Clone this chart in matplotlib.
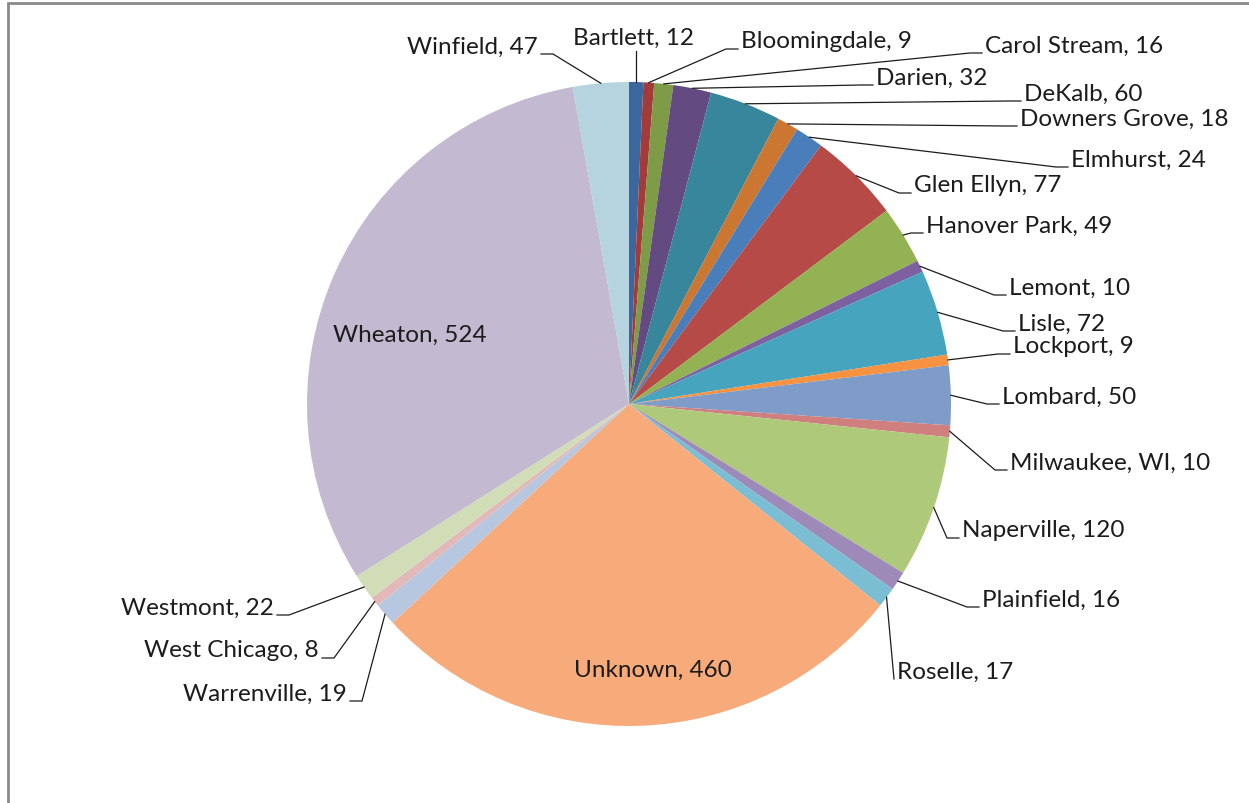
import numpy as np
import matplotlib.pyplot as plt
from matplotlib.patches import Rectangle

# visits by town
towns = ["Bartlett", "Bloomingdale", "Carol Stream", "Darien", "DeKalb",
         "Downers Grove", "Elmhurst", "Glen Ellyn", "Hanover Park", "Lemont",
         "Lisle", "Lockport", "Lombard", "Milwaukee, WI", "Naperville",
         "Plainfield", "Roselle", "Unknown", "Warrenville", "West Chicago",
         "Westmont", "Wheaton", "Winfield"]
counts = [12, 9, 16, 32, 60, 18, 24, 77, 49, 10, 72, 9, 50, 10, 120,
          16, 17, 460, 19, 8, 22, 524, 47]

colors = ["#3b679e", "#a33b3a", "#7e9b47", "#634b82", "#37869b", "#cb7731",
          "#4a7ebb", "#b54a47", "#93b254", "#7d60a0", "#46a4be", "#f69240",
          "#7f9cc9", "#cf7f7e", "#afc97a", "#9d8ab8", "#7bbed4", "#f8ab7a",
          "#b8c7e0", "#e2b9b8", "#d0ddb7", "#c3b9d1", "#b6d4df"]

# label placement in pixels: (x, y, alignment)
label_pos = {
    "Bartlett": (634, 38, "center"),
    "Bloomingdale": (741, 42, "left"),
    "Carol Stream": (985, 46, "left"),
    "Darien": (876, 78, "left"),
    "DeKalb": (1024, 94, "left"),
    "Downers Grove": (1020, 119, "left"),
    "Elmhurst": (1071, 160, "left"),
    "Glen Ellyn": (914, 186, "left"),
    "Hanover Park": (926, 226, "left"),
    "Lemont": (1009, 288, "left"),
    "Lisle": (1018, 324, "left"),
    "Lockport": (1013, 347, "left"),
    "Lombard": (1002, 397, "left"),
    "Milwaukee, WI": (1010, 463, "left"),
    "Naperville": (962, 531, "left"),
    "Plainfield": (982, 600, "left"),
    "Roselle": (897, 672, "left"),
    "Unknown": (653, 670, "inside"),
    "Warrenville": (347, 694, "right"),
    "West Chicago": (319, 651, "right"),
    "Westmont": (274, 608, "right"),
    "Wheaton": (410, 335, "inside"),
    "Winfield": (538, 47, "right"),
}
no_tick = {"Roselle"}

W, H = 1249, 804
cx, cy, R = 629, 405, 322

fig = plt.figure(figsize=(W / 100, H / 100), dpi=100)
ax = fig.add_axes([0, 0, 1, 1])

# y axis runs downward, so counterclock in data space reads clockwise on screen
wedges, _ = ax.pie(counts, colors=colors, startangle=-90, counterclock=True,
                   center=(cx, cy), radius=R,
                   wedgeprops=dict(linewidth=0))
ax.set_xlim(0, W)
ax.set_ylim(H, 0)
ax.set_aspect("auto")
ax.axis("off")

font = dict(family="Lato", fontsize=17.5, color="#1c1c1c")

for name, n, w in zip(towns, counts, wedges):
    tx, ty, ha = label_pos[name]
    text = f"{name}, {n}"
    if ha == "inside":
        ax.text(tx, ty, text, ha="center", va="center", **font)
        continue
    ax.text(tx, ty, text, ha=ha, va="center", **font)
    mid = np.deg2rad((w.theta1 + w.theta2) / 2)
    px = cx + R * np.cos(mid)
    py = cy + R * np.sin(mid)
    if ha == "center":
        xs, ys = [px, px], [py, ty + 14]
    elif name in no_tick:
        xs, ys = [px, tx - 3], [py, ty + 8]
    elif ha == "left":
        xs, ys = [px, tx - 15, tx - 3], [py, ty + 8, ty + 8]
    else:
        xs, ys = [px, tx + 15, tx + 3], [py, ty + 8, ty + 8]
    ax.plot(xs, ys, color="#1c1c1c", linewidth=0.9)

# chart area outline (top and left edges visible)
fig.patches.append(Rectangle((8 / W, -0.1), 1.2, (H - 4) / H + 0.1,
                             transform=fig.transFigure, fill=False,
                             edgecolor="#8a8a8a", linewidth=2))

fig.savefig("out.png", dpi=100)
